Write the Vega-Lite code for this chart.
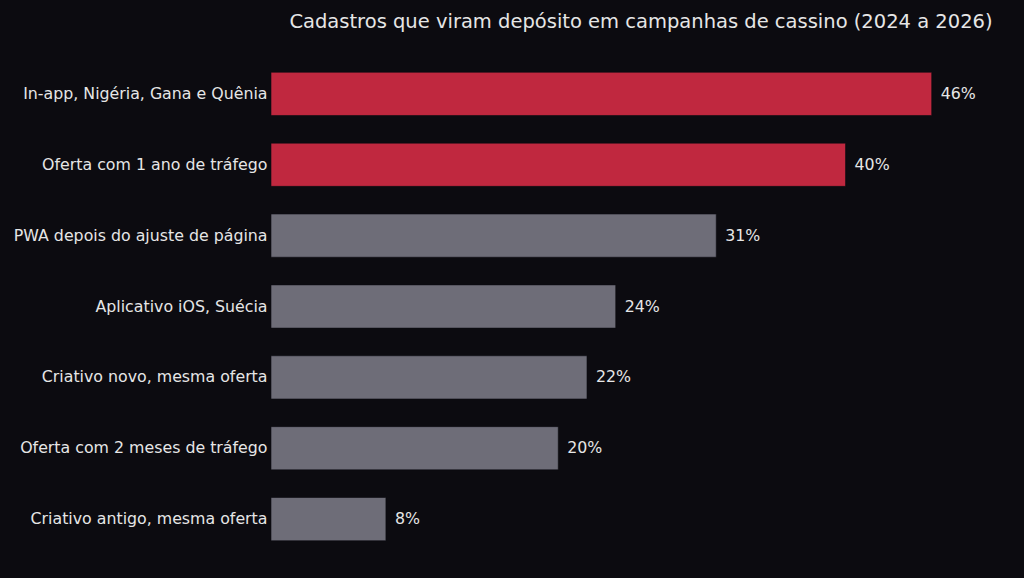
{
  "$schema": "https://vega.github.io/schema/vega-lite/v6.json",
  "title": {
    "text": "Cadastros que viram depósito em campanhas de cassino (2024 a 2026)",
    "font": "DejaVu Sans",
    "fontSize": 19.5,
    "fontWeight": "normal",
    "color": "#e6e6e6",
    "anchor": "middle",
    "offset": 19
  },
  "background": "#0c0b10",
  "autosize": "none",
  "padding": {"left": 271, "top": 51, "right": 13, "bottom": 16},
  "width": 740,
  "height": 511,
  "data": {
    "values": [
      {"campanha": "In-app, Nigéria, Gana e Quênia", "taxa": 0.46, "destaque": "sim"},
      {"campanha": "Oferta com 1 ano de tráfego", "taxa": 0.40, "destaque": "sim"},
      {"campanha": "PWA depois do ajuste de página", "taxa": 0.31, "destaque": "não"},
      {"campanha": "Aplicativo iOS, Suécia", "taxa": 0.24, "destaque": "não"},
      {"campanha": "Criativo novo, mesma oferta", "taxa": 0.22, "destaque": "não"},
      {"campanha": "Oferta com 2 meses de tráfego", "taxa": 0.20, "destaque": "não"},
      {"campanha": "Criativo antigo, mesma oferta", "taxa": 0.08, "destaque": "não"}
    ]
  },
  "encoding": {
    "y": {
      "field": "campanha",
      "type": "nominal",
      "sort": null,
      "scale": {"paddingInner": 0.39, "paddingOuter": 0.3},
      "axis": {
        "title": null,
        "domain": false,
        "ticks": false,
        "labelPadding": 4,
        "labelFont": "DejaVu Sans",
        "labelFontSize": 15.8,
        "labelColor": "#e6e6e6",
        "labelLimit": 400
      }
    },
    "x": {
      "field": "taxa",
      "type": "quantitative",
      "scale": {"domain": [0, 0.5152], "nice": false},
      "axis": null
    }
  },
  "layer": [
    {
      "mark": {"type": "bar", "stroke": "#0c0b10", "strokeWidth": 0.6},
      "encoding": {
        "color": {
          "field": "destaque",
          "type": "nominal",
          "scale": {"domain": ["sim", "não"], "range": ["#c0283f", "#6e6d78"]},
          "legend": null
        }
      }
    },
    {
      "mark": {
        "type": "text",
        "align": "left",
        "baseline": "middle",
        "dx": 9,
        "font": "DejaVu Sans",
        "fontSize": 15.8,
        "color": "#e6e6e6"
      },
      "encoding": {
        "text": {"field": "taxa", "type": "quantitative", "format": ".0%"}
      }
    }
  ],
  "config": {"view": {"stroke": null}}
}
